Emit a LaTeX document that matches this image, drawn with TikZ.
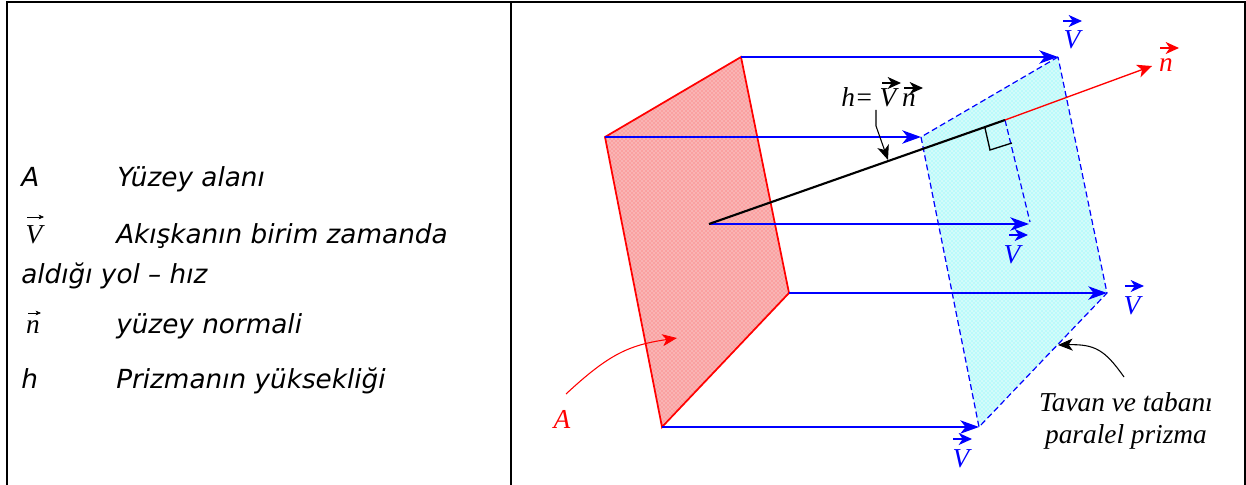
\documentclass[tikz,border=0pt]{standalone}
\usepackage{amsmath}
\usepackage{fontspec}
\usepackage{xcolor}
\usepackage{tikz}
\usetikzlibrary{arrows.meta,calc,patterns}
\newfontfamily\sidefont{DejaVu Sans}
\newfontfamily\labelfont{Liberation Serif}
\definecolor{redtint}{HTML}{F9B4B4}
\definecolor{cyantint}{HTML}{D4FAFA}
\tikzset{
  frameline/.style={line width=1.5pt,black},
  flowline/.style={blue,line width=1.5pt,-{Stealth[length=14pt,width=10pt,inset=4pt]}},
  prismedge/.style={blue,line width=.9pt,dashed,dash pattern=on 4.5pt off 2.5pt},
  pointer/.style={line width=.8pt,-{Stealth[length=11pt,width=9pt,inset=3pt]}},
  vecmark/.style={line width=.9pt,-{Stealth[length=10pt,width=9pt,inset=3pt]}},
  smallmark/.style={line width=.5pt,-{Stealth[length=4pt,width=3.5pt,inset=1pt]}},
  bigtext/.style={font=\labelfont\itshape\fontsize{20.5}{23.4}\selectfont,inner sep=0pt,anchor=base},
  sidetext/.style={font=\sidefont\itshape\fontsize{19.7}{23}\selectfont,anchor=base west,inner sep=0pt},
}
\begin{document}
\begin{tikzpicture}[x=.75pt,y=-.75pt]
  \useasboundingbox (0,0) rectangle (1246,485);
  % frame
  \draw[frameline] (7,485) -- (7,2) -- (1245,2) -- (1245,485);
  \draw[frameline] (511,2) -- (511,485);
  % left column
  \node[sidetext] (termA) at (21,186) {A};
  \node[sidetext] (textA) at (117,186) {Yüzey alanı};
  \node[bigtext] (termV) at (34,243) {V};
  \draw[smallmark] (27,217) -- (44,217);
  \node[sidetext] (textV) at (116,243) {Akışkanın birim zamanda};
  \node[sidetext] (textVb) at (21,283) {aldığı yol – hız};
  \node[bigtext] (termn) at (33,333) {n};
  \draw[smallmark] (28,313) -- (41,313);
  \node[sidetext] (textn) at (116,333) {yüzey normali};
  \node[sidetext] (termh) at (21,388) {h};
  \node[sidetext] (texth) at (116,388) {Prizmanın yüksekliği};
  % corners
  \coordinate (rtop) at (741,57);
  \coordinate (rleft) at (605,137);
  \coordinate (rbot) at (662,427);
  \coordinate (rright) at (789,293);
  \coordinate (btop) at (1058,57);
  \coordinate (bleft) at (921,137);
  \coordinate (bbot) at (979,427);
  \coordinate (bright) at (1107,293);
  \coordinate (mid) at (709,224);
  \coordinate (bmid) at (1029,224);
  \coordinate (foot) at (1005,120);
  \coordinate (tipn) at (1152,66);
  % faces
  \fill[redtint] (rtop) -- (rleft) -- (rbot) -- (rright) -- cycle;
  \fill[pattern=crosshatch dots,pattern color=red!60!white] (rtop) -- (rleft) -- (rbot) -- (rright) -- cycle;
  \fill[cyantint] (btop) -- (bleft) -- (bbot) -- (bright) -- cycle;
  \fill[pattern=crosshatch dots,pattern color=cyan!60!white] (btop) -- (bleft) -- (bbot) -- (bright) -- cycle;
  \draw[red,line width=1.3pt] (rtop) -- (rleft) -- (rbot) -- (rright) -- cycle;
  \draw[prismedge] (btop) -- (bleft) -- (bbot) -- (bright) -- cycle;
  \draw[prismedge] (foot) -- (1030,222);
  % flow lines
  \draw[flowline] (rtop) -- (btop);
  \draw[flowline] (rleft) -- (bleft);
  \draw[flowline] (rbot) -- (bbot);
  \draw[flowline] (rright) -- (bright);
  \draw[flowline] (mid) -- (bmid);
  % normal
  \draw[black,line width=1.6pt] (mid) -- (foot);
  \draw[red,line width=1pt,-{Stealth[length=11pt,width=10pt,inset=3pt]}] (foot) -- (tipn);
  \draw[black,line width=1pt] (985,128) -- (990,150) -- (1012,143);
  % labels
  \node[bigtext,blue] (vtop) at (1072,49) {V};
  \draw[vecmark,blue] (1063,21) -- (1082,21);
  \node[bigtext,blue] (vmid) at (1012,263) {V};
  \draw[vecmark,blue] (1009,235) -- (1028,235);
  \node[bigtext,blue] (vright) at (1132,314) {V};
  \draw[vecmark,blue] (1125,286) -- (1144,286);
  \node[bigtext,blue] (vbot) at (961,467) {V};
  \draw[vecmark,blue] (953,439) -- (972,439);
  \node[bigtext,red] (nlabel) at (1166,72) {n};
  \draw[vecmark,red] (1160,48) -- (1179,48);
  \node[bigtext,red] (alabel) at (562,428) {A};
  \node[bigtext,anchor=base west] (hlabel) at (841,107) {h=};
  \node[bigtext] (hv) at (888,107) {V};
  \node[bigtext] (hn) at (909,107) {n};
  \draw[vecmark] (882,83) -- (901,83);
  \draw[vecmark] (904,88) -- (923,88);
  \node[bigtext,anchor=center,align=center] (prismlabel) at (1126,421) {Tavan ve tabanı\\paralel prizma};
  % pointers
  \coordinate (hfrom) at (876,110);
  \coordinate (hto) at (888,160);
  \draw[pointer] (hfrom) -- (876,126) -- (hto);
  \coordinate (afrom) at (566,394);
  \coordinate (ato) at (677,338);
  \draw[pointer,red] (afrom) .. controls (610,353) and (630,345) .. (ato);
  \coordinate (pfrom) at (1124,377);
  \coordinate (pto) at (1058,345);
  \draw[pointer] (pfrom) .. controls (1105,350) and (1095,344) .. (pto);
\end{tikzpicture}
\end{document}
